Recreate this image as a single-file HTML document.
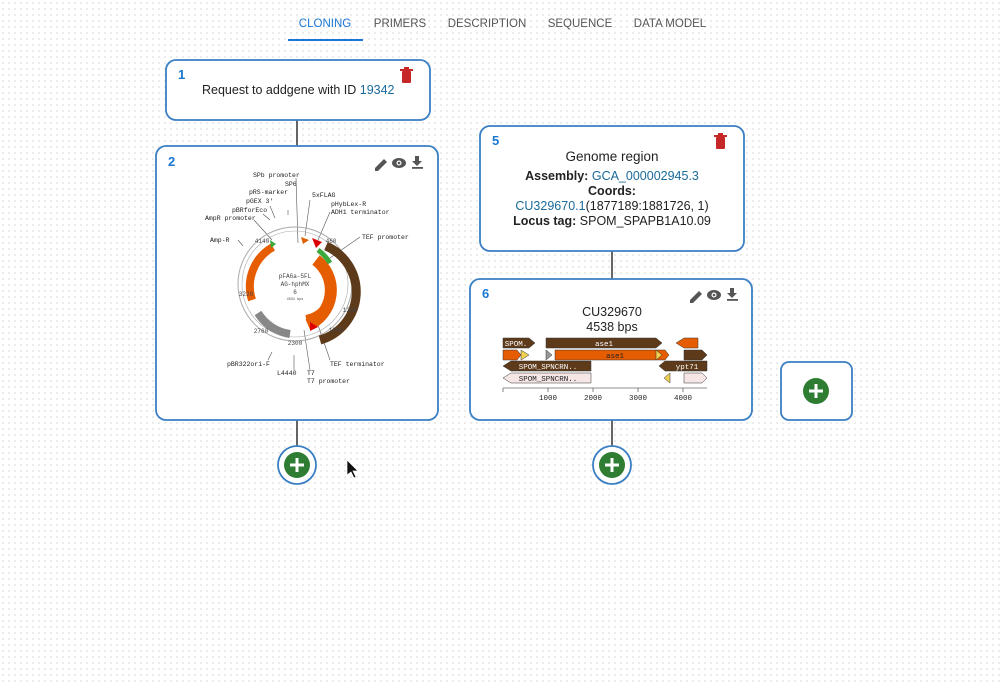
<!DOCTYPE html>
<html><head><meta charset="utf-8"><style>
html,body{margin:0;padding:0;background:#fff;}
body{width:1000px;height:686px;overflow:hidden;background-image:radial-gradient(#e4e4e4 0.8px,transparent 0.9px);background-size:6px 6px;}
svg{position:absolute;left:0;top:0;font-family:"Liberation Sans",sans-serif;}
.mono{font-family:"Liberation Mono",monospace;}
</style></head><body>
<svg width="1000" height="686" viewBox="0 0 1000 686">
<g font-size="11.5" fill="#555" text-anchor="middle">
<text x="325" y="27" fill="#1976d2">CLONING</text>
<text x="400" y="27">PRIMERS</text>
<text x="487" y="27">DESCRIPTION</text>
<text x="580" y="27">SEQUENCE</text>
<text x="670" y="27">DATA MODEL</text>
</g>
<rect x="288" y="39" width="75" height="2" fill="#1976d2"/>

<g stroke="#333" stroke-width="1.5">
<line x1="297" y1="120" x2="297" y2="146"/>
<line x1="297" y1="420" x2="297" y2="447"/>
<line x1="612" y1="251" x2="612" y2="279"/>
<line x1="612" y1="420" x2="612" y2="447"/>
</g>

<g fill="#fff" stroke="#3a7fc4" stroke-width="1.8">
<rect x="166" y="60" width="264" height="60" rx="10"/>
<rect x="156" y="146" width="282" height="274" rx="10"/>
<rect x="480" y="126" width="264" height="125" rx="10"/>
<rect x="470" y="279" width="282" height="141" rx="10"/>
<rect x="781" y="362" width="71" height="58" rx="8"/>
<circle cx="297" cy="465" r="19"/>
<circle cx="612" cy="465" r="19"/>
</g>
<g fill="#2e7d32">
<circle cx="297" cy="465" r="13"/><circle cx="612" cy="465" r="13"/><circle cx="816" cy="391" r="13"/>
</g>
<g stroke="#fff" stroke-width="3">
<path d="M290 465h14M297 458v14"/><path d="M605 465h14M612 458v14"/><path d="M809 391h14M816 384v14"/>
</g>

<text x="178" y="79" font-size="13" font-weight="bold" fill="#1976d2">1</text>
<text x="202" y="94" font-size="12.5" fill="#222">Request to addgene with ID <tspan fill="#1a6a9a">19342</tspan></text>
<g fill="#c62828"><rect x="402" y="71" width="9" height="12" rx="1"/><rect x="400" y="69" width="13" height="2"/><rect x="404" y="67" width="5" height="2"/></g>

<text x="492" y="145" font-size="13" font-weight="bold" fill="#1976d2">5</text>
<g fill="#c62828"><rect x="716" y="137" width="9" height="12" rx="1"/><rect x="714" y="135" width="13" height="2"/><rect x="718" y="133" width="5" height="2"/></g>
<g text-anchor="middle" font-size="12.5" fill="#222">
<text x="612" y="161" font-size="13.5">Genome region</text>
<text x="612" y="180"><tspan font-weight="bold">Assembly:</tspan> <tspan fill="#1a6a9a">GCA_000002945.3</tspan></text>
<text x="612" y="195" font-weight="bold">Coords:</text>
<text x="612" y="210"><tspan fill="#1a6a9a">CU329670.1</tspan>(1877189:1881726, 1)</text>
<text x="612" y="225"><tspan font-weight="bold">Locus tag:</tspan> SPOM_SPAPB1A10.09</text>
</g>

<g fill="#555">
<path d="M375 168l9-9 3 3-9 9h-3z"/>
<ellipse cx="399" cy="163" rx="7" ry="5"/><circle cx="399" cy="163" r="2.5" fill="#fff"/><circle cx="399" cy="163" r="1.3"/>
<path d="M415 156h4v5h3l-5 5-5-5h3z"/><rect x="412" y="167" width="11" height="1.8"/>
</g>
<g transform="translate(315,132)" fill="#555">
<path d="M375 168l9-9 3 3-9 9h-3z"/>
<ellipse cx="399" cy="163" rx="7" ry="5"/><circle cx="399" cy="163" r="2.5" fill="#fff"/><circle cx="399" cy="163" r="1.3"/>
<path d="M415 156h4v5h3l-5 5-5-5h3z"/><rect x="412" y="167" width="11" height="1.8"/>
</g>

<text x="168" y="166" font-size="13" font-weight="bold" fill="#1976d2">2</text>
<g class="mono" font-size="6.5" fill="#222">
<text x="253" y="177">SPb promoter</text>
<text x="285" y="186">SP6</text>
<text x="249" y="194">pRS-marker</text>
<text x="246" y="203">pGEX 3'</text>
<text x="232" y="212">pBRforEco</text>
<text x="205" y="220">AmpR promoter</text>
<text x="210" y="242">Amp-R</text>
<text x="312" y="197">5xFLAG</text>
<text x="331" y="206">pHybLex-R</text>
<text x="331" y="214">ADH1 terminator</text>
<text x="362" y="239">TEF promoter</text>
<text x="330" y="366">TEF terminator</text>
<text x="227" y="366">pBR322ori-F</text>
<text x="277" y="375">L4440</text>
<text x="307" y="375">T7</text>
<text x="307" y="383">T7 promoter</text>
</g>
<g stroke="#555" stroke-width="0.6" fill="none">
<line x1="296" y1="178" x2="298" y2="243"/><line x1="288" y1="210" x2="288" y2="215"/>
<line x1="270" y1="206" x2="275" y2="218"/><line x1="263" y1="214" x2="270" y2="220"/>
<line x1="254" y1="220" x2="272" y2="240"/><line x1="238" y1="240" x2="243" y2="246"/>
<line x1="310" y1="200" x2="305" y2="236"/><line x1="330" y1="212" x2="318" y2="240"/>
<line x1="360" y1="237" x2="330" y2="258"/><line x1="330" y1="360" x2="318" y2="325"/>
<line x1="268" y1="360" x2="272" y2="352"/><line x1="294" y1="370" x2="294" y2="355"/>
<line x1="310" y1="370" x2="304" y2="330"/>
</g>
<circle cx="295" cy="284" r="57" fill="none" stroke="#aaa" stroke-width="1"/>
<circle cx="295" cy="284" r="53" fill="none" stroke="#aaa" stroke-width="0.6"/>
<path d="M326 246 A50 50 0 0 1 320 340" fill="none" stroke="#5d3a1a" stroke-width="9"/>
<path d="M316 260 A38 38 0 0 1 308 325" fill="none" stroke="#e65c00" stroke-width="12"/>
<path d="M318 264 A30 30 0 0 1 306 318" fill="none" stroke="#e65c00" stroke-width="6"/>
<path d="M273 247 A45 45 0 0 0 252 300" fill="none" stroke="#e65c00" stroke-width="8"/>
<path d="M258 313 A45 45 0 0 0 290 334" fill="none" stroke="#888" stroke-width="8"/>
<path d="M318 250 A45 45 0 0 1 330 263" fill="none" stroke="#3caa3c" stroke-width="5"/>
<path d="M270 240l6 4-5 4z" fill="#3caa3c"/>
<path d="M301 237l8 3-6 4z" fill="#e06000"/>
<path d="M312 238l10 4-6 6z" fill="#d00"/>
<path d="M310 322l8 5-8 4z" fill="#d00"/>
<g class="mono" font-size="6" fill="#444" text-anchor="middle">
<text x="295" y="278">pFA6a-5FL</text><text x="295" y="286">AG-hphMX</text><text x="295" y="294">6</text>
<text x="295" y="300" font-size="3.5">4531 bps</text>
<text x="331" y="243">460</text><text x="262" y="243">4140</text><text x="295" y="345">2300</text>
<text x="246" y="296">3220</text><text x="261" y="333">2760</text><text x="350" y="312">1380</text><text x="336" y="332">1840</text>
</g>

<text x="482" y="298" font-size="13" font-weight="bold" fill="#1976d2">6</text>
<text x="612" y="316" font-size="12.5" text-anchor="middle" fill="#222">CU329670</text>
<text x="612" y="331" font-size="12.5" text-anchor="middle" fill="#222">4538 bps</text>
<g stroke="#333" stroke-width="0.5">
<path d="M503 338h26l6 5-6 5h-26z" fill="#5d3a1a"/>
<path d="M546 338h110l6 5-6 5h-110z" fill="#5d3a1a"/>
<path d="M676 343l8-5h14v10h-14z" fill="#e65c00"/>
<path d="M503 350h14l4 5-4 5h-14z" fill="#e65c00"/>
<path d="M521 350l8 5-8 5z" fill="#f0d050"/>
<path d="M546 350l6 5-6 5z" fill="#999"/>
<path d="M555 350h110l4 5-4 5h-110z" fill="#e65c00"/>
<path d="M656 350l6 5-6 5z" fill="#f0d050"/>
<path d="M684 350h18l5 5-5 5h-18z" fill="#5d3a1a"/>
<path d="M503 366l8-5h80v10h-80z" fill="#5d3a1a"/>
<path d="M659 366l6-5h42v10h-42z" fill="#5d3a1a"/>
<path d="M503 378l8-5h80v10h-80z" fill="#f7e6e6"/>
<path d="M664 378l6-5v10z" fill="#f0d050"/>
<path d="M684 373h18l5 5-5 5h-18z" fill="#f7e6e6"/>
</g>
<g class="mono" font-size="7.5" text-anchor="middle">
<text x="516" y="346" fill="#fff">SPOM.</text>
<text x="604" y="346" fill="#fff">ase1</text>
<text x="615" y="358" fill="#222">ase1</text>
<text x="548" y="369" fill="#fff">SPOM_SPNCRN..</text>
<text x="687" y="369" fill="#fff">ypt71</text>
<text x="548" y="381" fill="#222">SPOM_SPNCRN..</text>
</g>
<g stroke="#666" stroke-width="0.8">
<line x1="503" y1="388" x2="707" y2="388"/>
<line x1="503" y1="388" x2="503" y2="392"/><line x1="548" y1="388" x2="548" y2="392"/>
<line x1="593" y1="388" x2="593" y2="392"/><line x1="638" y1="388" x2="638" y2="392"/><line x1="683" y1="388" x2="683" y2="392"/>
</g>
<g class="mono" font-size="7.5" fill="#222" text-anchor="middle">
<text x="548" y="400">1000</text><text x="593" y="400">2000</text><text x="638" y="400">3000</text><text x="683" y="400">4000</text>
</g>

<path d="M347 460v15l4-3 3 6 2-1-3-6h5z" fill="#111" stroke="#fff" stroke-width="0.7"/>
</svg>
</body></html>
